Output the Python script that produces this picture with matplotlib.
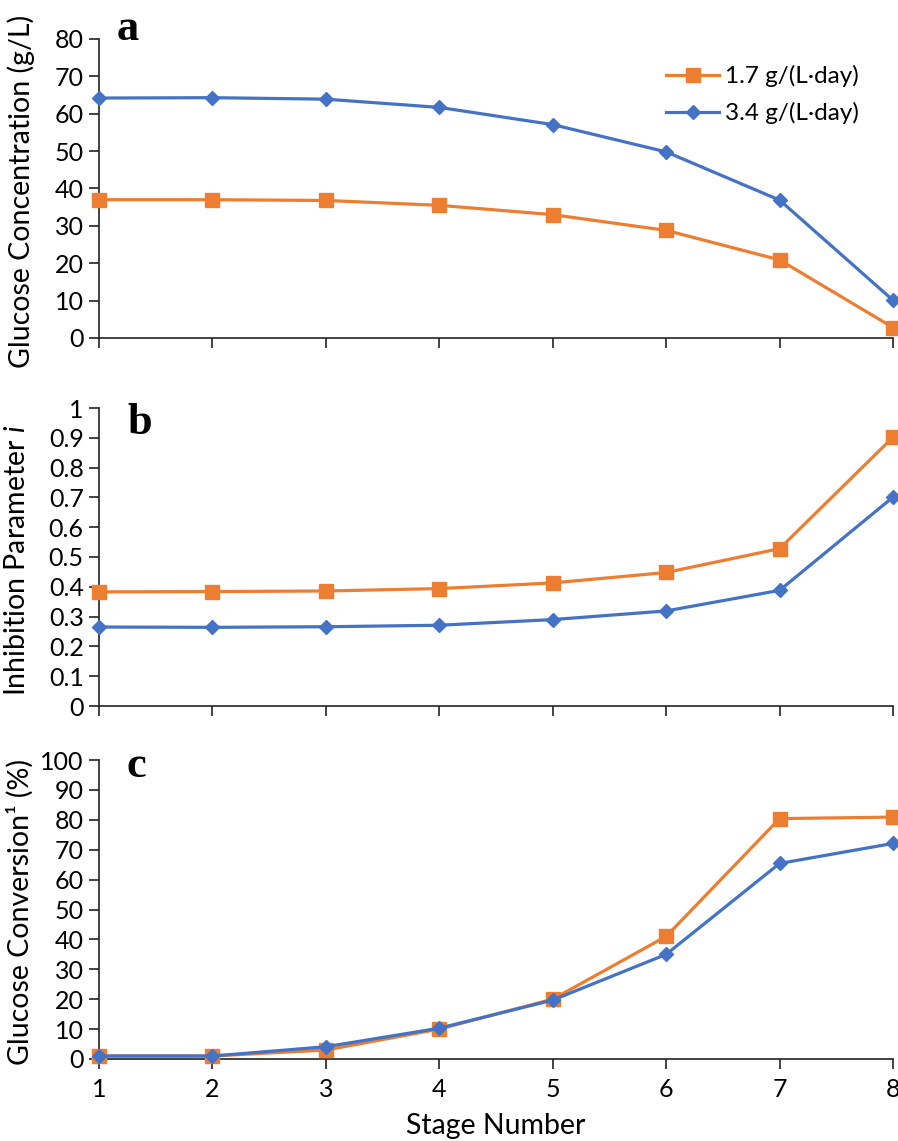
import matplotlib
matplotlib.use("Agg")
import matplotlib.pyplot as plt

plt.rcParams['font.family'] = ['Lato', 'DejaVu Sans']
plt.rcParams['mathtext.fontset'] = 'custom'
plt.rcParams['mathtext.rm'] = 'Lato'
plt.rcParams['mathtext.it'] = 'Lato:italic'

stages = [1, 2, 3, 4, 5, 6, 7, 8]
series_labels = ['1.7 g/(L·day)', '3.4 g/(L·day)']

# panel a - glucose concentration (g/L)
conc_17 = [37.0, 37.0, 36.8, 35.5, 33.0, 28.8, 20.9, 2.8]
conc_34 = [64.2, 64.3, 63.9, 61.7, 57.1, 49.8, 36.9, 10.1]
# panel b - inhibition parameter i
inhib_17 = [0.383, 0.384, 0.386, 0.394, 0.413, 0.448, 0.528, 0.902]
inhib_34 = [0.265, 0.264, 0.266, 0.271, 0.290, 0.319, 0.388, 0.701]
# panel c - glucose conversion (%)
conv_17 = [1.0, 1.0, 3.0, 10.0, 20.0, 41.0, 80.4, 80.9]
conv_34 = [1.0, 1.0, 4.1, 10.3, 19.7, 35.0, 65.4, 72.1]

orange = '#ED7D31'
blue = '#4472C4'

W, H = 898, 1141
fig = plt.figure(figsize=(W/100, H/100), dpi=100)
left, width = 99/W, 794/W
tops = [39, 408, 760]
bottoms = [338, 706, 1059]
# panel letter positions (px): left x, baseline y
letter_pos = [(117, 40), (127, 434), (127, 777)]

panels = [
    (conc_17, conc_34, (0, 80), list(range(0, 81, 10)), 'Glucose Concentration (g/L)', 'a', -0.080),
    (inhib_17, inhib_34, (0, 1), [0, 0.1, 0.2, 0.3, 0.4, 0.5, 0.6, 0.7, 0.8, 0.9, 1], 'Inhibition Parameter $i$', 'b', -0.087),
    (conv_17, conv_34, (0, 100), list(range(0, 101, 10)), 'Glucose Conversion¹ (%)', 'c', -0.082),
]
ytl = [None, ['0', '0.1', '0.2', '0.3', '0.4', '0.5', '0.6', '0.7', '0.8', '0.9', '1'], None]

axes = []
for k, (s1, s2, ylim, yt, ylab, letter, lx) in enumerate(panels):
    ax = fig.add_axes([left, 1 - bottoms[k]/H, width, (bottoms[k]-tops[k])/H])
    ax.plot(stages, s1, color=orange, lw=2.3, marker='s', ms=10, clip_on=False, zorder=3, label=series_labels[0])
    ax.plot(stages, s2, color=blue, lw=2.3, marker='D', ms=7, clip_on=False, zorder=4, label=series_labels[1])
    ax.set_xlim(1, 8)
    ax.set_ylim(*ylim)
    ax.set_xticks(stages)
    ax.set_yticks(yt)
    if ytl[k]:
        ax.set_yticklabels(ytl[k])
    for s in ['top', 'right']:
        ax.spines[s].set_visible(False)
    for s in ['left', 'bottom']:
        ax.spines[s].set_color('#222222')
        ax.spines[s].set_linewidth(1.2)
    ax.tick_params(direction='out', length=7, width=1.2, color='#222222', labelsize=18, pad=4)
    ax.tick_params(axis='x', pad=7)
    if k < 2:
        ax.tick_params(axis='x', labelbottom=False)
    ax.set_ylabel(ylab, fontsize=20.5)
    ax.yaxis.set_label_coords(lx, 0.49)
    lxp, lyp = letter_pos[k]
    fig.text(lxp/W, 1 - lyp/H, letter, fontsize=32, fontweight='bold',
             family='Liberation Serif', va='baseline', ha='left')
    axes.append(ax)

axes[0].legend(loc='upper right', bbox_to_anchor=(0.985, 0.985), frameon=False, fontsize=17.5,
               handlelength=2.2, handletextpad=0.25, labelspacing=0.6)
axes[2].set_xlabel('Stage Number', fontsize=20.5, labelpad=8)

fig.savefig('out.png', dpi=100)
